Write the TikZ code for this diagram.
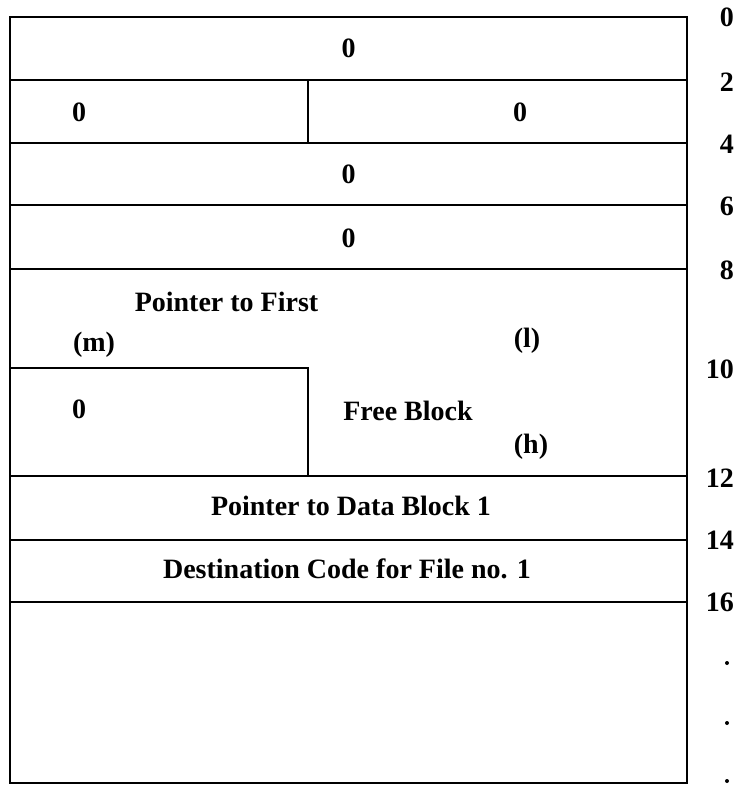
\documentclass[tikz,border=0pt]{standalone}
\usepackage{fontspec}
\setmainfont{Liberation Serif}
\begin{document}
\begin{tikzpicture}[x=1pt,y=-1pt,
  ln/.style={line width=2.2pt},
  lbl/.style={font=\fontsize{28}{32}\selectfont\bfseries, inner sep=0pt},
  num/.style={font=\fontsize{28}{32}\selectfont\bfseries, inner sep=0pt, anchor=east}]
\useasboundingbox (0,0) rectangle (738,785);
% outer frame and rows
\draw[ln] (10,17) rectangle (687,783);
\draw[ln] (10,80) -- (687,80);
\draw[ln] (308,80) -- (308,143);
\draw[ln] (10,143) -- (687,143);
\draw[ln] (10,205) -- (687,205);
\draw[ln] (10,269) -- (687,269);
\draw[ln] (10,368) -- (308,368) -- (308,476);
\draw[ln] (10,476) -- (687,476);
\draw[ln] (10,540) -- (687,540);
\draw[ln] (10,602) -- (687,602);
% texts
\node[lbl] (r0) at (348.5,48) {0};
\node[lbl] (r1a) at (79,112) {0};
\node[lbl] (r1b) at (520,112) {0};
\node[lbl] (r2) at (348.5,174) {0};
\node[lbl] (r3) at (348.5,238) {0};
\node[lbl] (ptf) at (226.5,302) {Pointer to First};
\node[lbl] (m) at (94,345) {(m)};
\node[lbl] (l) at (527,341) {(l)};
\node[lbl] (z) at (79,409) {0};
\node[lbl] (fb) at (408,411) {Free Block};
\node[lbl] (h) at (531,447) {(h)};
\node[lbl] (pdb) at (351,506) {Pointer to Data Block 1};
\node[lbl] (dc) at (347,569) {Destination Code for File no. 1};
% offsets
\node[num] (n0) at (734,17) {0};
\node[num] (n2) at (734,82) {2};
\node[num] (n4) at (734,144) {4};
\node[num] (n6) at (734,206) {6};
\node[num] (n8) at (734,270) {8};
\node[num] (n10) at (734,369) {10};
\node[num] (n12) at (734,478) {12};
\node[num] (n14) at (734,540) {14};
\node[num] (n16) at (734,602) {16};
\fill (727,663) circle (2pt);
\fill (727,723) circle (2pt);
\fill (727,781) circle (2pt);
\end{tikzpicture}
\end{document}
